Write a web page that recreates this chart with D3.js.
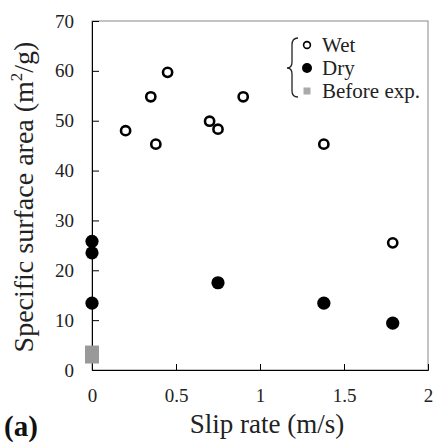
<!DOCTYPE html>
<html>
<head>
<meta charset="utf-8">
<script src="https://cdn.jsdelivr.net/npm/d3@7"></script>
</head>
<body style="margin:0">
<script>
// data
const wetX = [0.2, 0.35, 0.38, 0.45, 0.7, 0.75, 0.9, 1.38, 1.79];
const wetY = [48.0, 54.8, 45.3, 59.7, 49.9, 48.3, 54.8, 45.3, 25.5];
const dryX = [0, 0, 0, 0.75, 1.38, 1.79];
const dryY = [25.8, 23.5, 13.4, 17.5, 13.4, 9.4];
const beforeX = [0, 0];
const beforeY = [3.5, 2.7];
const xTicks = [0, 0.5, 1, 1.5, 2];
const yTicks = [0, 10, 20, 30, 40, 50, 60, 70];
const legendLabels = ["Wet", "Dry", "Before exp."];

const width = 435, height = 442;
const margin = {top: 21, right: 7, bottom: 72, left: 92};
const fontFam = "'Liberation Serif', 'Times New Roman', serif";

const svg = d3.select("body").append("svg")
    .attr("width", width)
    .attr("height", height)
    .style("display", "block")
    .style("font-family", fontFam);

const x = d3.scaleLinear()
    .domain([0, 2])
    .range([margin.left, width - margin.right]);

const y = d3.scaleLinear()
    .domain([0, 70])
    .range([height - margin.bottom, margin.top]);

// plot frame (top/right in grey)
svg.append("rect")
    .attr("x", x(0))
    .attr("y", y(70))
    .attr("width", x(2) - x(0))
    .attr("height", y(0) - y(70))
    .attr("fill", "none")
    .attr("stroke", "#888")
    .attr("stroke-width", 1);

const xAxis = g => g
    .attr("transform", `translate(0,${y(0)})`)
    .call(d3.axisBottom(x).tickValues(xTicks).tickSize(-6).tickPadding(19).tickFormat(d3.format("")))
    .call(g => g.select(".domain").attr("stroke", "#000"))
    .call(g => g.selectAll(".tick line").filter(d => d === 0 || d === 2).remove())
    .call(g => g.selectAll(".tick text")
        .style("font-family", fontFam)
        .style("font-size", "19px")
        .attr("fill", "#222"));

const yAxis = g => g
    .attr("transform", `translate(${x(0)},0)`)
    .call(d3.axisLeft(y).tickValues(yTicks).tickSize(-7).tickPadding(18))
    .call(g => g.select(".domain").attr("stroke", "#000"))
    .call(g => g.selectAll(".tick line").filter(d => d === 0 || d === 70).remove())
    .call(g => g.selectAll(".tick text")
        .style("font-family", fontFam)
        .style("font-size", "19px")
        .attr("fill", "#222"));

svg.append("g").call(xAxis);
svg.append("g").call(yAxis);

// axis titles
svg.append("text")
    .attr("x", 267)
    .attr("y", 433)
    .attr("text-anchor", "middle")
    .style("font-family", fontFam)
    .style("font-size", "27px")
    .attr("fill", "#222")
    .text("Slip rate (m/s)");

const yt = svg.append("text")
    .attr("transform", "translate(33,197) rotate(-90)")
    .attr("text-anchor", "middle")
    .style("font-family", fontFam)
    .style("font-size", "28px")
    .attr("fill", "#222");
yt.append("tspan").text("Specific  surface area (m");
yt.append("tspan").style("font-size", "17px").attr("dy", -11).text("2");
yt.append("tspan").attr("dy", 11).text("/g)");

svg.append("text")
    .attr("x", 4)
    .attr("y", 436)
    .style("font-family", fontFam)
    .style("font-size", "29px")
    .style("font-weight", "bold")
    .attr("fill", "#111")
    .text("(a)");

// points
svg.append("g")
  .selectAll("rect")
  .data(d3.zip(beforeX, beforeY))
  .join("rect")
    .attr("x", d => x(d[0]) - 7)
    .attr("y", d => y(d[1]) - 7)
    .attr("width", 14)
    .attr("height", 14)
    .attr("fill", "#999");

svg.append("g")
  .selectAll("circle")
  .data(d3.zip(dryX, dryY))
  .join("circle")
    .attr("cx", d => x(d[0]))
    .attr("cy", d => y(d[1]))
    .attr("r", 6.6)
    .attr("fill", "#000");

svg.append("g")
  .selectAll("circle")
  .data(d3.zip(wetX, wetY))
  .join("circle")
    .attr("cx", d => x(d[0]))
    .attr("cy", d => y(d[1]))
    .attr("r", 4.6)
    .attr("fill", "#fff")
    .attr("stroke", "#000")
    .attr("stroke-width", 2.6);

// legend
const lg = svg.append("g").attr("transform", "translate(307,45)");
const rowH = 23;
lg.append("path")
    .attr("d", "M -9 -7 C -13 -7 -15 -5 -15 0 L -15 17 C -15 21 -17 23 -20 23 C -17 23 -15 25 -15 29 L -15 46 C -15 50 -13 52 -9 52")
    .attr("fill", "none")
    .attr("stroke", "#222")
    .attr("stroke-width", 1.3);
lg.append("circle").attr("cx", 0).attr("cy", 0).attr("r", 3.4)
    .attr("fill", "#fff").attr("stroke", "#000").attr("stroke-width", 1.6);
lg.append("circle").attr("cx", 0).attr("cy", rowH).attr("r", 5).attr("fill", "#000");
lg.append("rect").attr("x", -3.5).attr("y", 2 * rowH - 3.5).attr("width", 7).attr("height", 7).attr("fill", "#aaa");
lg.selectAll("text")
  .data(legendLabels)
  .join("text")
    .attr("x", 15)
    .attr("y", (d, i) => i * rowH + 7)
    .style("font-family", fontFam)
    .style("font-size", "21px")
    .attr("fill", "#222")
    .text(d => d);
</script>
</body>
</html>
